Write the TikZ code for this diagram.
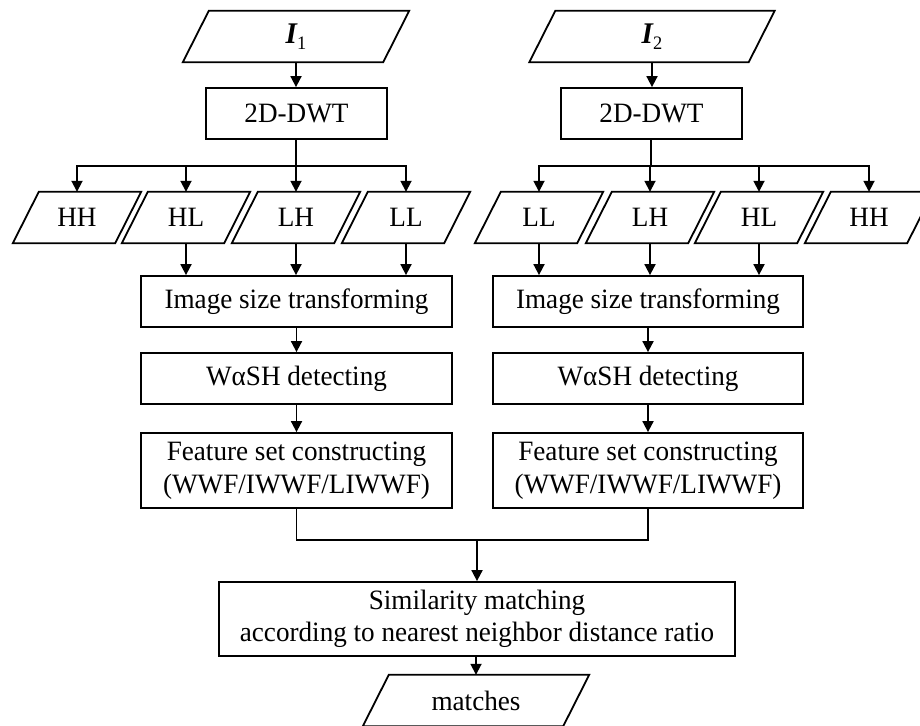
\documentclass[tikz,border=0pt]{standalone}
\usepackage{fontspec}
\setmainfont[FakeStretch=0.97]{Liberation Serif}
\usetikzlibrary{arrows.meta,calc}
\begin{document}
\begin{tikzpicture}[x=1pt,y=-1pt,
  every node/.style={font=\fontsize{28}{32.5}\selectfont, inner sep=0pt, align=center},
  box/.style={draw, line width=1.8pt, minimum height=51pt},
  pbox/.style={minimum height=51pt},
  arr/.style={line width=1.8pt, -{Triangle[length=11pt,width=11pt]}},
  ln/.style={line width=1.8pt},
  pg/.style={line width=1.8pt, line join=miter}]
\useasboundingbox (0,0) rectangle (920,725);
% inputs
\node[pbox, minimum width=200pt] (i1) at (296,36.5) {{\fontsize{30}{30}\selectfont\bfseries\itshape I}\raisebox{-0.22em}{\fontsize{19}{19}\selectfont 1}};
\node[pbox, minimum width=219pt] (i2) at (652,36.5) {{\fontsize{30}{30}\selectfont\bfseries\itshape I}\raisebox{-0.22em}{\fontsize{19}{19}\selectfont 2}};
\node[box, minimum width=181pt] (dwt1) at (296.5,113.5) {2D-DWT};
\node[box, minimum width=181pt] (dwt2) at (651.5,113.5) {2D-DWT};
% subbands
\node[pbox, minimum width=102pt] (hh1) at (77,217.5) {HH};
\node[pbox, minimum width=102pt] (hl1) at (186,217.5) {HL};
\node[pbox, minimum width=102pt] (lh1) at (296,217.5) {LH};
\node[pbox, minimum width=102pt] (ll1) at (406,217.5) {LL};
\node[pbox, minimum width=102pt] (ll2) at (539,217.5) {LL};
\node[pbox, minimum width=102pt] (lh2) at (650,217.5) {LH};
\node[pbox, minimum width=102pt] (hl2) at (759,217.5) {HL};
\node[pbox, minimum width=102pt] (hh2) at (869,217.5) {HH};
% processing
\node[box, minimum width=311pt] (ist1) at (296.5,301.5) {Image size transforming};
\node[box, minimum width=310pt] (ist2) at (648,301.5) {Image size transforming};
\node[box, minimum width=311pt] (wa1) at (296.5,378.5) {WαSH detecting};
\node[box, minimum width=310pt] (wa2) at (648,378.5) {WαSH detecting};
\node[box, minimum width=311pt, minimum height=75pt] (fs1) at (296.5,470.5) {Feature set constructing\\(WWF/IWWF/LIWWF)};
\node[box, minimum width=310pt, minimum height=75pt] (fs2) at (648,470.5) {Feature set constructing\\(WWF/IWWF/LIWWF)};
\node[box, minimum width=516pt, minimum height=74pt] (sim) at (477,619) {Similarity matching\\according to nearest neighbor distance ratio};
\node[pbox, minimum width=200pt] (mt) at (476,700.5) {matches};
% parallelogram outlines
\foreach \n in {i1,i2,hh1,hl1,lh1,ll1,ll2,lh2,hl2,hh2,mt}
  \draw[pg] ([xshift=-13pt]\n.south west) -- ([xshift=13pt]\n.north west) -- ([xshift=13pt]\n.north east) -- ([xshift=-13pt]\n.south east) -- cycle;
% connectors
\draw[arr] (i1.south) -- (dwt1.north -| i1.south);
\draw[arr] (i2.south) -- (dwt2.north -| i2.south);
\coordinate (b1) at (296,166);
\coordinate (b2) at (651,166);
\draw[ln] (dwt1.south -| b1) -- (b1);
\draw[ln] (dwt2.south -| b2) -- (b2);
\foreach \t in {hh1,hl1,lh1,ll1} \draw[arr] (b1) -| (\t.north);
\foreach \t in {ll2,lh2,hl2,hh2} \draw[arr] (b2) -| (\t.north);
\foreach \t in {hl1,lh1,ll1} \draw[arr] (\t.south) -- (\t.south |- ist1.north);
\foreach \t in {ll2,lh2,hl2} \draw[arr] (\t.south) -- (\t.south |- ist2.north);
\draw[arr] (ist1.south) -- (wa1.north);
\draw[arr] (ist2.south) -- (wa2.north);
\draw[arr] (wa1.south) -- (fs1.north);
\draw[arr] (wa2.south) -- (fs2.north);
\coordinate (m) at (477,540);
\draw[ln] (fs1.south) |- (m) -| (fs2.south);
\draw[arr] (m) -- (sim.north);
\draw[arr] (sim.south -| mt.north) -- (mt.north);
\end{tikzpicture}
\end{document}
